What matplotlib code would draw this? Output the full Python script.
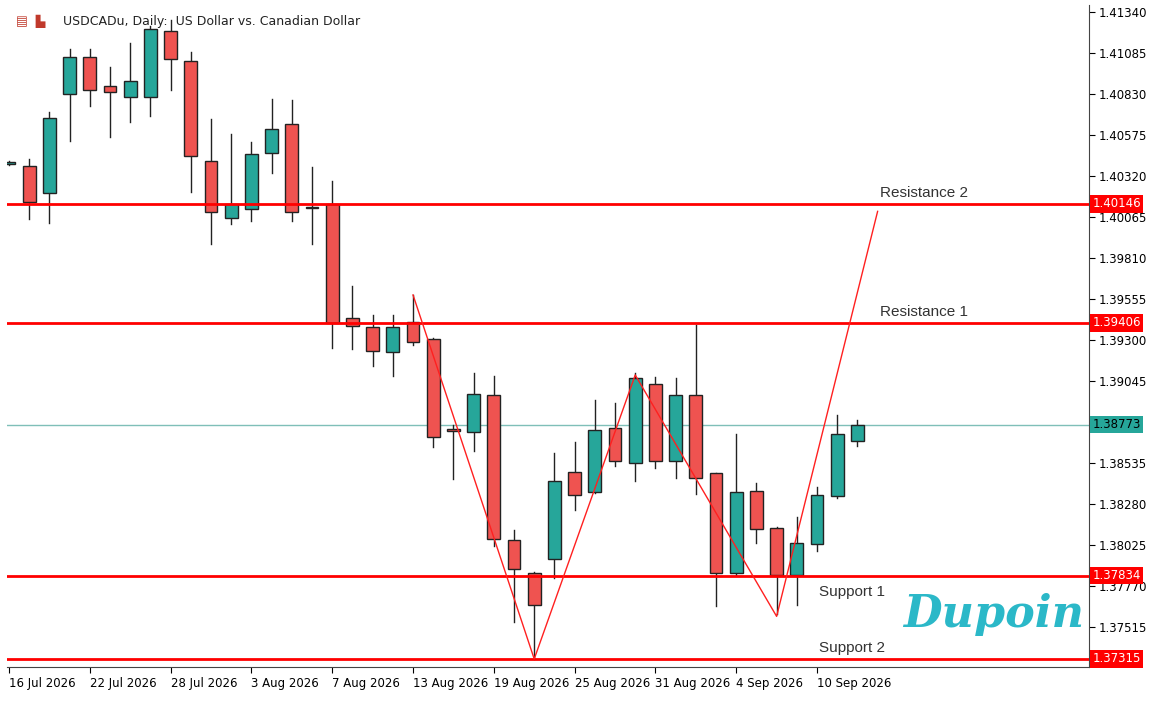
import matplotlib
matplotlib.use("Agg")
import matplotlib.pyplot as plt
from matplotlib.patches import Rectangle

opens  = [1.40395,1.40382,1.40214,1.40830,1.41060,1.40880,1.40811,1.40811,1.41222,1.41035,
          1.40413,1.40059,1.40115,1.40463,1.40643,1.40127,1.40146,1.39437,1.39381,1.39225,
          1.39412,1.39306,1.38746,1.38728,1.38958,1.38056,1.37851,1.37938,1.38479,1.38354,
          1.38753,1.38535,1.39026,1.38547,1.38958,1.38473,1.37851,1.38361,1.38131,1.37838,
          1.38031,1.38330,1.38672]
highs  = [1.40413,1.40426,1.40718,1.41110,1.41110,1.40998,1.41147,1.41253,1.41290,1.41091,
          1.40674,1.40581,1.40531,1.40799,1.40793,1.40376,1.40289,1.39636,1.39455,1.39455,
          1.39580,1.39312,1.38771,1.39095,1.39076,1.38118,1.37857,1.38597,1.38665,1.38927,
          1.38908,1.39095,1.39070,1.39063,1.39393,1.38473,1.38715,1.38410,1.38137,1.38199,
          1.38386,1.38833,1.38802]
lows   = [1.40388,1.40053,1.40028,1.40538,1.40755,1.40563,1.40656,1.40693,1.40855,1.40220,
          1.39897,1.40021,1.40040,1.40339,1.40040,1.39897,1.39250,1.39244,1.39138,1.39076,
          1.39269,1.38634,1.38435,1.38609,1.38019,1.37546,1.37315,1.37820,1.38242,1.38348,
          1.38516,1.38423,1.38504,1.38442,1.38342,1.37645,1.37838,1.38037,1.37596,1.37652,
          1.37987,1.38317,1.38641]
closes = [1.40407,1.40158,1.40681,1.41060,1.40855,1.40842,1.40911,1.41234,1.41048,1.40444,
          1.40096,1.40146,1.40457,1.40612,1.40096,1.40121,1.39406,1.39387,1.39231,1.39381,
          1.39287,1.38697,1.38734,1.38964,1.38062,1.37876,1.37652,1.38423,1.38336,1.38740,
          1.38547,1.39063,1.38547,1.38958,1.38442,1.37851,1.38354,1.38124,1.37838,1.38037,
          1.38336,1.38715,1.38773]
tick_idx = [0,4,8,12,16,20,24,28,32,36,40]
tick_labels = ["16 Jul 2026","22 Jul 2026","28 Jul 2026","3 Aug 2026","7 Aug 2026","13 Aug 2026",
               "19 Aug 2026","25 Aug 2026","31 Aug 2026","4 Sep 2026","10 Sep 2026"]
price_ticks = [1.41340,1.41085,1.40830,1.40575,1.40320,1.40065,1.39810,1.39555,1.39300,
               1.39045,1.38535,1.38280,1.38025,1.37770,1.37515]
levels = [1.40146,1.39406,1.37834,1.37315]
level_names = ["Resistance 2","Resistance 1","Support 1","Support 2"]
current = 1.38773
zz_x = [20,26,31,38,43]
zz_y = [1.39580,1.37315,1.39082,1.37580,1.40100]

W,H = 1156,702
fig = plt.figure(figsize=(W/100,H/100), dpi=100)
ax = fig.add_axes([7/W, 35/H, 1082/W, 662/H])
teal, red = "#26a69a", "#ef5350"
for i,(o,h,l,c) in enumerate(zip(opens,highs,lows,closes)):
    col = teal if c>=o else red
    ax.plot([i,i],[l,h],color="#222222",lw=1,zorder=2)
    ax.add_patch(Rectangle((i-0.32,min(o,c)),0.64,max(abs(c-o),0.00004),
                           facecolor=col,edgecolor="#222222",lw=1,zorder=3))
for lv in levels:
    ax.axhline(lv,color="#ff0000",lw=2,zorder=4)
ax.axhline(current,color="#7fbfb8",lw=1,zorder=1)
ax.plot(zz_x,zz_y,color="#ff2020",lw=1,zorder=5)
ax.set_xlim(-0.1, -0.1+1082/20.2)
ax.set_ylim(1.37265,1.41384)
ax.yaxis.tick_right()
ax.set_yticks(price_ticks)
ax.set_yticklabels([f"{p:.5f}" for p in price_ticks],fontsize=8.5)
ax.set_xticks(tick_idx)
ax.set_xticklabels(tick_labels,fontsize=8.5,ha="left")
ax.tick_params(axis="x",length=4,pad=3)
ax.tick_params(axis="y",length=4,pad=3)
for s in ["top","left"]:
    ax.spines[s].set_visible(False)
ax.spines["right"].set_color("#444444"); ax.spines["bottom"].set_color("#444444")
for lv in levels:
    ax.text(1.003,lv,f"{lv:.5f}",transform=ax.get_yaxis_transform(),fontsize=8.5,color="white",
            va="center",ha="left",bbox=dict(boxstyle="square,pad=0.2",fc="#ff0000",ec="none"),zorder=6,clip_on=False)
ax.text(1.003,current,f"{current:.5f}",transform=ax.get_yaxis_transform(),fontsize=8.5,color="black",
        va="center",ha="left",bbox=dict(boxstyle="square,pad=0.2",fc="#26a69a",ec="none"),zorder=6,clip_on=False)
pos = [(43.1,0.00070),(43.1,0.00070),(40.1,-0.00100),(40.1,0.00070)]
for (x,dy),lv,nm in zip(pos,levels,level_names):
    ax.text(x,lv+dy,nm,fontsize=11,color="#333333",va="center",family="Liberation Sans")
ax.text(0.052,0.975,"USDCADu, Daily:  US Dollar vs. Canadian Dollar",transform=ax.transAxes,
        fontsize=9,va="center",color="#222222")
ax.text(0.008,0.975,"▤  ▙",transform=ax.transAxes,fontsize=9,va="center",color="#c0392b")
ax.text(0.995,0.08,"Dupoin",transform=ax.transAxes,fontsize=32,color="#2bb8c8",ha="right",
        style="italic",fontweight="bold",va="center",family="DejaVu Serif")
fig.savefig("out.png",dpi=100,facecolor="white")
